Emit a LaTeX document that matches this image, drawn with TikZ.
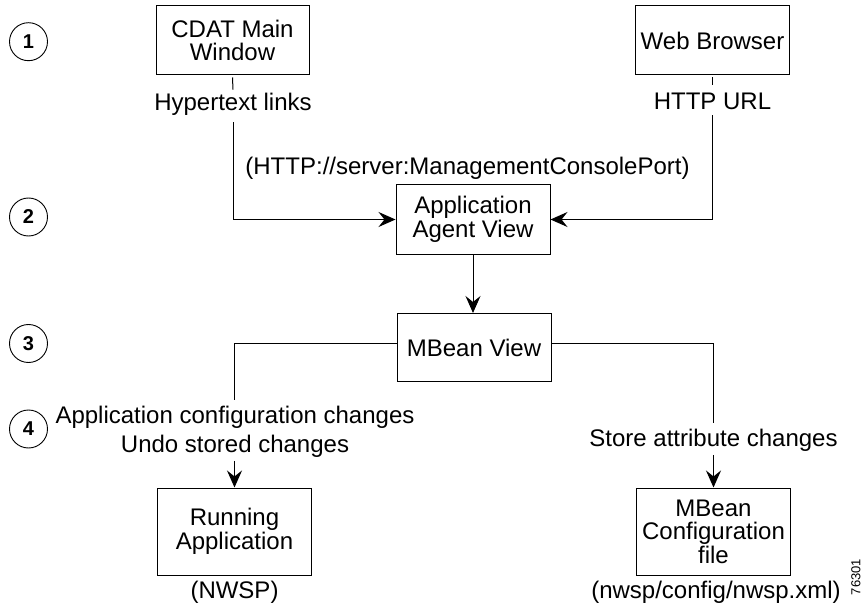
\documentclass[tikz,border=0pt]{standalone}
\usepackage{fontspec}
\setmainfont{Liberation Sans}
\usetikzlibrary{arrows.meta}
\begin{document}
\begin{tikzpicture}[x=1pt,y=-1pt,
  box/.style={draw, line width=1pt, minimum width=154pt, align=center, inner sep=0pt, font=\fontsize{24}{23.5}\selectfont},
  lbl/.style={inner sep=0pt, align=center, font=\fontsize{24}{29}\selectfont},
  num/.style={draw, circle, line width=0.9pt, minimum size=38pt, inner sep=0pt, font=\bfseries\fontsize{20}{20}\selectfont},
  conn/.style={line width=1pt},
  arr/.style={conn, -{Stealth[length=17pt,width=15pt,inset=6pt]}}]
\useasboundingbox (0,0) rectangle (863,607);
% boxes
\node[box, minimum width=153pt, minimum height=69pt] (cdat) at (232.5,40.5) {CDAT Main\\Window};
\node[box, minimum height=69pt] (web) at (712.5,40.5) {Web Browser};
\node[box, minimum height=69pt] (app) at (473,219.5) {Application\\Agent View};
\node[box, minimum height=68pt] (mbv) at (474,347.5) {MBean View};
\node[box, minimum height=87pt] (run) at (234.5,531.5) {Running\\Application};
\node[box, minimum height=87pt] (cfg) at (713.5,531.5) {MBean\\Configuration\\file};
% labels
\node[lbl] (hl) at (233,104) {Hypertext links};
\node[lbl] (hu) at (712.5,101.5) {HTTP URL};
\node[lbl] (url) at (467.5,168.5) {(HTTP://server:ManagementConsolePort)};
\node[lbl] (acc) at (235,432) {Application configuration changes\\Undo stored changes};
\node[lbl] (sac) at (713.5,440.5) {Store attribute changes};
\node[lbl] (nwsp) at (234.5,592) {(NWSP)};
\node[lbl] (xml) at (716,592) {(nwsp/config/nwsp.xml)};
\node[rotate=90, inner sep=0pt, font=\fontsize{13}{13}\selectfont] (fig) at (856,577) {76301};
% step numbers
\node[num] (n1) at (28.5,41.7) {1};
\node[num] (n2) at (28.5,217) {2};
\node[num] (n3) at (28.5,343.5) {3};
\node[num] (n4) at (28.5,429) {4};
% connectors
\draw[conn] ([yshift=-2pt]cdat.south) -- ([yshift=3pt]hl.north);
\draw[arr] ([yshift=-7pt]hl.south) |- (app.west);
\draw[conn] ([yshift=-2pt]web.south) -- ([yshift=8pt]hu.north);
\draw[arr] ([yshift=-5pt]hu.south) |- (app.east);
\draw[arr] (app.south) -- (app.south |- mbv.north);
\draw[conn] ([yshift=4pt]mbv.west) -| ([yshift=6pt]run.north |- acc.north);
\draw[arr] ([yshift=-3pt]run.north |- acc.south) -- (run.north);
\draw[conn] ([yshift=4pt]mbv.east) -| ([yshift=6pt]sac.north);
\draw[arr] ([yshift=-3pt]sac.south) -- (cfg.north);
\end{tikzpicture}
\end{document}
